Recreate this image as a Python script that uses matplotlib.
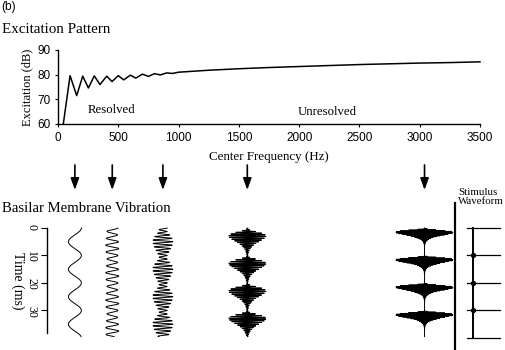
import numpy as np
import matplotlib
matplotlib.use('Agg')
import matplotlib.pyplot as plt

# excitation pattern
freq_hz = [44, 100, 155, 205, 252, 301, 348, 404, 448, 500, 545, 600, 645,
           700, 750, 800, 850, 900, 950, 1000, 1250, 1500, 1750, 2000,
           2250, 2500, 2750, 3000, 3250, 3500]
excitation_db = [60, 79.6, 71.5, 79.4, 74.6, 79.5, 76.0, 79.4, 77.2, 79.6,
                 77.9, 79.8, 78.6, 80.2, 79.3, 80.4, 79.9, 80.7, 80.5, 81.0,
                 81.8, 82.4, 82.9, 83.3, 83.7, 84.1, 84.4, 84.7, 84.9, 85.2]
freq_ticks = [0, 500, 1000, 1500, 2000, 2500, 3000, 3500]
db_ticks = [60, 70, 80, 90]
time_ticks = [0, 10, 20, 30]

# stimulus is a 100 Hz pulse train, filters sit where the arrows point
f0 = 100
arrow_freqs = [140, 450, 870, 1570, 3040]
filter_cfs = [100, 400, 800, 1600, 3200]
pulse_times = [0, 10, 20, 30, 40]

plt.rcParams['font.family'] = 'serif'
plt.rcParams['font.serif'] = ['Liberation Serif', 'DejaVu Serif']

W, H = 506, 350
fig = plt.figure(figsize=(W / 100, H / 100), dpi=100)

# pixel layout of the top axes
L, R, T, B = 58, 480, 50, 124
ax1 = fig.add_axes([L / W, 1 - B / H, (R - L) / W, (B - T) / H])
ax1.plot(freq_hz, excitation_db, color='k', lw=1.1, clip_on=False)
ax1.set_xlim(0, 3500)
ax1.set_ylim(60, 90)
ax1.set_xticks(freq_ticks)
ax1.set_yticks(db_ticks)
for s in ['top', 'right']:
    ax1.spines[s].set_visible(False)
for s in ['left', 'bottom']:
    ax1.spines[s].set_linewidth(1.0)
ax1.tick_params(direction='out', length=2.5, width=0.8, pad=3)
for lab in ax1.get_xticklabels() + ax1.get_yticklabels():
    lab.set_family('Liberation Sans')
    lab.set_fontsize(8.5)
ax1.text(440, 65.7, 'Resolved', ha='center', va='center', fontsize=9.2)
ax1.text(2231, 65.0, 'Unresolved', ha='center', va='center', fontsize=9.2)

fig.text(1 / W, 1 - 7 / H, '(b)', family='Liberation Sans', fontsize=8.6,
         ha='left', va='center')
fig.text(2 / W, 1 - 33 / H, 'Excitation Pattern', fontsize=10.8,
         ha='left', va='baseline')
fig.text(27 / W, 1 - 87 / H, 'Excitation (dB)', fontsize=9, rotation=90,
         ha='center', va='center')
fig.text(269 / W, 1 - 157 / H, 'Center Frequency (Hz)', fontsize=9.4,
         ha='center', va='center')
fig.text(2 / W, 1 - 212 / H, 'Basilar Membrane Vibration', fontsize=10.6,
         ha='left', va='baseline')
fig.text(18 / W, 1 - 281 / H, 'Time (ms)', fontsize=10, rotation=270,
         ha='center', va='center')
fig.text(458 / W, 1 - 197 / H, 'Stimulus\nWaveform', fontsize=7.8,
         ha='left', va='center', linespacing=1.1)

# arrows from the excitation pattern down to each filter output
for f in arrow_freqs:
    ax1.annotate('', xy=(f, 1 - 190 / H), xytext=(f, 1 - 165 / H),
                 xycoords=('data', 'figure fraction'),
                 textcoords=('data', 'figure fraction'),
                 arrowprops=dict(arrowstyle='-|>,head_length=0.5,head_width=0.18',
                                 mutation_scale=14, color='k', lw=1.2,
                                 shrinkA=0, shrinkB=0))

# bottom panel shares the frequency->pixel mapping of the top axes
def px2f(px):
    return (px - L) * 3500 / (R - L)

BL, BR, BT, BB = 47, 506, 228, 333
ax2 = fig.add_axes([BL / W, 1 - BB / H, (BR - BL) / W, (BB - BT) / H])
ax2.set_xlim(px2f(BL), px2f(BR))
ax2.set_ylim(38.2, 0)
for s in ['top', 'right', 'bottom']:
    ax2.spines[s].set_visible(False)
ax2.spines['left'].set_linewidth(1.0)
ax2.set_xticks([])
ax2.set_yticks(time_ticks)
ax2.tick_params(axis='y', direction='out', length=4, width=0.8, pad=3,
                labelrotation=-90, labelsize=8.5)

# gammatone filtered pulse train for each centre frequency
fs = 40000.0
n = int(0.3 * fs)
n0 = int(0.26 * fs)
t = (np.arange(n) - n0) / fs
pulses = np.zeros(n)
pulses[::int(fs / f0)] = 1.0
tt = np.arange(int(0.15 * fs)) / fs
half_px = [6.5, 6.5, 10, 18.5, 28.5]
keep = (t >= 0) & (t <= 0.0395)
for cf, fa, hw in zip(filter_cfs, arrow_freqs, half_px):
    b = 0.82 * 24.7 * (4.37 * cf / 1000 + 1)
    g = tt ** 3 * np.exp(-2 * np.pi * b * tt) * np.cos(2 * np.pi * cf * tt)
    y = np.convolve(pulses, g)[:n][keep]
    y = y / np.abs(y).max()
    ax2.plot(fa + y * hw * 3500 / (R - L), t[keep] * 1000, color='k',
             lw=0.7, clip_on=False)

# separator and stimulus waveform
ax2.plot([px2f(455)] * 2, [-9.1, 44.4], color='k', lw=1.6, clip_on=False)
xs = px2f(473)
ax2.plot([xs, xs], [pulse_times[0], pulse_times[-1]], color='k', lw=1.4,
         clip_on=False)
for p in pulse_times:
    ax2.plot([px2f(467), px2f(500)], [p, p], color='k', lw=0.9, clip_on=False)
ax2.plot([xs] * 3, pulse_times[1:-1], 'o', color='k', ms=2.8, clip_on=False)

plt.savefig('out.png', dpi=100)
